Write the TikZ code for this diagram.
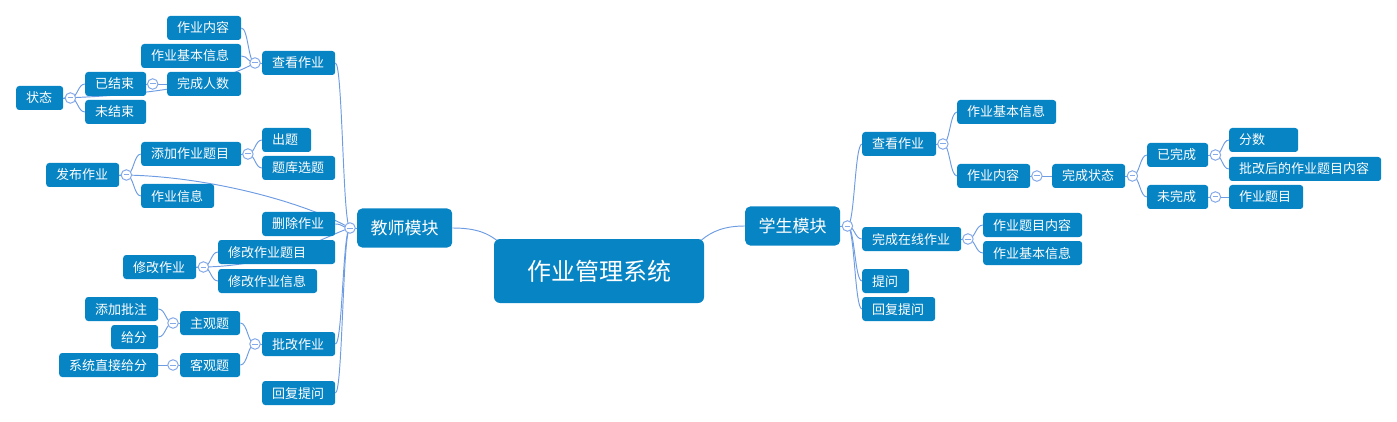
\documentclass[tikz,border=0pt]{standalone}
\usepackage{fontspec}
\setmainfont{Noto Sans CJK SC}
\usetikzlibrary{calc}
\pgfdeclarelayer{bg}
\pgfsetlayers{bg,main}
\definecolor{boxblue}{HTML}{0784C4}
\definecolor{lnblue}{HTML}{6E9CE3}
\definecolor{tgblue}{HTML}{86AAE8}
\tikzset{
  bx/.style={fill=boxblue, text=white, rounded corners=3pt, anchor=west, inner xsep=10pt, inner ysep=0pt,
    minimum height=24pt, font=\fontsize{13}{15}\selectfont, text height=10pt, text depth=0pt, align=left},
  modbx/.style={fill=boxblue, text=white, rounded corners=5pt, anchor=west, inner xsep=13.5pt, inner ysep=0pt,
    minimum height=39pt, font=\fontsize{17}{20}\selectfont, text height=13pt, text depth=0pt, align=left},
  rootbx/.style={fill=boxblue, text=white, rounded corners=6pt, minimum width=210pt, minimum height=64pt,
    font=\fontsize{24}{28}\selectfont, text height=18pt, text depth=0pt, inner sep=0pt},
  conn/.style={draw=lnblue, line width=0.95pt},
  tog/.style={circle, draw=tgblue, fill=white, line width=1pt, minimum size=10.5pt, inner sep=0pt,
    path picture={\draw[tgblue, line width=1pt] ([xshift=-2.8pt]path picture bounding box.center) -- ([xshift=2.8pt]path picture bounding box.center);}},
}
\newcommand\lnk[2]{\draw[conn] let \p1=(#1), \p2=(#2) in (\p1) .. controls ({0.5*\x1+0.5*\x2},\y1) and ({0.5*\x1+0.5*\x2},\y2) .. (\p2);}
\begin{document}
\begin{tikzpicture}[x=1pt,y=-1pt]
\useasboundingbox (0,0) rectangle (1397,422);
% root and modules
\node[rootbx] (root) at (599,271) {作业管理系统};
\node[modbx, text width=68pt] (teacher) at (357,228) {教师模块};
\node[modbx, text width=68pt] (student) at (745,226) {学生模块};
% teacher side
\node[bx, text width=54pt] (tnr) at (167,28) {作业内容};
\node[bx, text width=80pt] (tjb) at (141,56) {作业基本信息};
\node[bx, text width=53pt] (tck) at (262,63) {查看作业};
\node[bx, text width=54pt] (twc) at (167,84) {完成人数};
\node[bx, text width=41pt] (tyj) at (85,84) {已结束};
\node[bx, text width=41pt] (twj) at (85,112) {未结束};
\node[bx, text width=27pt] (tzt) at (16,98) {状态};
\node[bx, text width=29pt] (tct) at (262,140) {出题};
\node[bx, text width=53pt] (ttk) at (262,168) {题库选题};
\node[bx, text width=80pt] (ttj) at (141,154) {添加作业题目};
\node[bx, text width=53pt] (tfb) at (46,175) {发布作业};
\node[bx, text width=53pt] (txx) at (141,196) {作业信息};
\node[bx, text width=53pt] (tsc) at (262,224) {删除作业};
\node[bx, text width=97pt] (txt) at (218,252) {修改作业题目};
\node[bx, text width=53pt] (txg) at (123,267) {修改作业};
\node[bx, text width=79pt] (txi) at (218,281) {修改作业信息};
\node[bx, text width=53pt] (tpz) at (85,309) {添加批注};
\node[bx, text width=40pt] (tzg) at (180,323) {主观题};
\node[bx, text width=27pt] (tgf) at (111,337) {给分};
\node[bx, text width=53pt] (tpg) at (262,344) {批改作业};
\node[bx, text width=79pt] (tzj) at (59,365) {系统直接给分};
\node[bx, text width=40pt] (tkg) at (180,365) {客观题};
\node[bx, text width=53pt] (thf) at (262,393) {回复提问};
% student side
\node[bx, text width=54pt] (sck) at (862,144) {查看作业};
\node[bx, text width=79pt] (szx) at (862,239) {完成在线作业};
\node[bx, text width=27pt] (stw) at (862,281) {提问};
\node[bx, text width=53pt] (shf) at (862,309) {回复提问};
\node[bx, text width=79pt] (sjb) at (957,112) {作业基本信息};
\node[bx, text width=53pt] (snr) at (957,176) {作业内容};
\node[bx, text width=53pt] (szt) at (1052,176) {完成状态};
\node[bx, text width=79pt] (stm) at (983,225) {作业题目内容};
\node[bx, text width=79pt] (sj2) at (983,253) {作业基本信息};
\node[bx, text width=41pt] (syw) at (1147,155) {已完成};
\node[bx, text width=41pt] (sww) at (1147,197) {未完成};
\node[bx, text width=49pt] (sfs) at (1229,140) {分数};
\node[bx, text width=132pt] (spg) at (1229,169) {批改后的作业题目内容};
\node[bx, text width=54pt] (stt) at (1229,197) {作业题目};
% toggle circles
\node[tog] (ct) at ($(teacher.west)+(-7,0)$) {};
\node[tog] (cck) at ($(tck.west)+(-7,0)$) {};
\node[tog] (cyj) at ($(tyj.east)+(6.3,0)$) {};
\node[tog] (czt) at ($(tzt.east)+(7,0)$) {};
\node[tog] (ctj) at ($(ttj.east)+(6.5,0)$) {};
\node[tog] (cfb) at ($(tfb.east)+(7,0)$) {};
\node[tog] (cxg) at ($(txg.east)+(7,0)$) {};
\node[tog] (czg) at ($(tzg.west)+(-7,0)$) {};
\node[tog] (cpg) at ($(tpg.west)+(-7,0)$) {};
\node[tog] (ckg) at ($(tkg.west)+(-7,0)$) {};
\node[tog] (cs) at ($(student.east)+(7,0)$) {};
\node[tog] (csck) at ($(sck.east)+(6.5,0)$) {};
\node[tog] (csnr) at ($(snr.east)+(6.5,0)$) {};
\node[tog] (cszt) at ($(szt.east)+(7,0)$) {};
\node[tog] (cszx) at ($(szx.east)+(6.5,0)$) {};
\node[tog] (csyw) at ($(syw.east)+(7,0)$) {};
\node[tog] (csww) at ($(sww.east)+(7,0)$) {};
\begin{pgfonlayer}{bg}
% root links
\draw[conn] (teacher.east) .. controls (478,228) and (488,234) .. ($(root.north west)+(3,1.5)$);
\draw[conn] ($(root.north east)+(-3,1.5)$) .. controls (712,231) and (725,226) .. (student.west);
% teacher
\draw[conn] (teacher.west) -- (ct.center);
\lnk{ct.center}{tck.east}
\lnk{ct.center}{tsc.east}
\lnk{ct.center}{tpg.east}
\lnk{ct.center}{thf.east}
\draw[conn] (ct.center) .. controls (300,200) and (200,175) .. (tfb.east);
\draw[conn] (ct.center) .. controls (325,236) and (275,268) .. (txg.east);
\draw[conn] (tck.west) -- (cck.center);
\lnk{cck.center}{tnr.east}
\lnk{cck.center}{tjb.east}
\draw[conn] (cck.center) .. controls (215,85) and (150,95) .. (tzt.east);
\draw[conn] (tyj.east) -- (twc.west);
\draw[conn] (tzt.east) -- (czt.center);
\lnk{czt.center}{tyj.west}
\lnk{czt.center}{twj.west}
\draw[conn] (ttj.east) -- (ctj.center);
\lnk{ctj.center}{tct.west}
\lnk{ctj.center}{ttk.west}
\draw[conn] (tfb.east) -- (cfb.center);
\lnk{cfb.center}{ttj.west}
\lnk{cfb.center}{txx.west}
\draw[conn] (txg.east) -- (cxg.center);
\lnk{cxg.center}{txt.west}
\lnk{cxg.center}{txi.west}
\draw[conn] (tpg.west) -- (cpg.center);
\lnk{cpg.center}{tzg.east}
\lnk{cpg.center}{tkg.east}
\draw[conn] (tzg.west) -- (czg.center);
\lnk{czg.center}{tpz.east}
\lnk{czg.center}{tgf.east}
\draw[conn] (tkg.west) -- (tzj.east);
% student
\draw[conn] (student.east) -- (cs.center);
\lnk{cs.center}{sck.west}
\lnk{cs.center}{szx.west}
\lnk{cs.center}{stw.west}
\lnk{cs.center}{shf.west}
\draw[conn] (sck.east) -- (csck.center);
\lnk{csck.center}{sjb.west}
\lnk{csck.center}{snr.west}
\draw[conn] (snr.east) -- (szt.west);
\draw[conn] (szt.east) -- (cszt.center);
\lnk{cszt.center}{syw.west}
\lnk{cszt.center}{sww.west}
\draw[conn] (syw.east) -- (csyw.center);
\lnk{csyw.center}{sfs.west}
\lnk{csyw.center}{spg.west}
\draw[conn] (sww.east) -- (stt.west);
\draw[conn] (szx.east) -- (cszx.center);
\lnk{cszx.center}{stm.west}
\lnk{cszx.center}{sj2.west}
\end{pgfonlayer}
\end{tikzpicture}
\end{document}
